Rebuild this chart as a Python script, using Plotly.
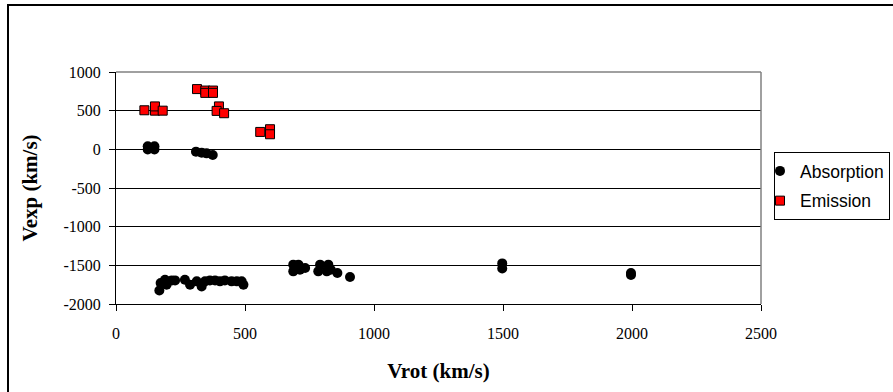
import plotly.graph_objects as go

# Absorption (black circles)
abs_x = [123, 123, 149, 149, 310, 332, 351, 375,
         168, 173, 190, 196, 216, 229, 267, 287, 313, 332, 345, 364, 384, 403, 422, 448, 468, 487, 494,
         687, 687, 707, 713, 733, 791, 784, 823, 817, 832, 858, 907,
         1497, 1497, 1996, 1996]
abs_y = [40, -3, 40, -3, -30, -43, -52, -74,
         -1825, -1730, -1686, -1750, -1695, -1695, -1686, -1750, -1707, -1773, -1707, -1695, -1695, -1707, -1695, -1707, -1707, -1707, -1750,
         -1491, -1578, -1491, -1556, -1534, -1491, -1578, -1491, -1578, -1556, -1600, -1651,
         -1475, -1540, -1600, -1625]

# Emission (red squares)
emi_x = [110, 151, 151, 181, 314, 346, 346, 376, 376, 399, 390, 419, 559, 597, 597]
emi_y = [505, 500, 555, 500, 779, 760, 730, 760, 730, 555, 497, 467, 225, 260, 195]

x_ticks = [0, 500, 1000, 1500, 2000, 2500]
y_ticks = [-2000, -1500, -1000, -500, 0, 500, 1000]

fig = go.Figure()
fig.add_trace(go.Scatter(x=abs_x, y=abs_y, mode="markers", name="Absorption",
                         legendgroup="a",
                         marker=dict(symbol="circle", size=10, color="black",
                                     line=dict(width=0))))
fig.add_trace(go.Scatter(x=emi_x, y=emi_y, mode="markers", name="Emission",
                         legendgroup="e",
                         marker=dict(symbol="square", size=9, color="#FF0000",
                                     line=dict(width=1, color="black"))))

tickfont = dict(family="Liberation Serif", size=16, color="black")
titlefont = dict(family="Liberation Serif", size=21, color="black")

px = lambda v: (v - 116) / 645
py = lambda v: (304 - v) / 232

fig.update_layout(
    width=893, height=392,
    margin=dict(l=116, r=132, t=72, b=88, autoexpand=False),
    paper_bgcolor="white", plot_bgcolor="white",
    showlegend=True,
    legend=dict(x=px(774), y=py(152), xanchor="left", yanchor="top",
                bgcolor="white", bordercolor="black", borderwidth=1,
                font=dict(family="Liberation Sans", size=17.5, color="black"),
                traceorder="grouped", tracegroupgap=4,
                itemwidth=30, indentation=-15),
    xaxis=dict(range=[0, 2500], tickvals=x_ticks, ticktext=[str(v) for v in x_ticks],
               showgrid=False, zeroline=False,
               showline=True, linecolor="black", linewidth=1,
               ticks="outside", ticklen=6, tickcolor="black",
               tickfont=tickfont, ticklabelstandoff=9,
               title=dict(text="<b>Vrot (km/s)</b>", font=titlefont, standoff=22)),
    yaxis=dict(range=[-2000, 1000], tickvals=y_ticks, ticktext=[str(v) for v in y_ticks],
               showgrid=True, gridcolor="black", gridwidth=1, zeroline=False,
               showline=True, linecolor="black", linewidth=1,
               ticks="outside", ticklen=6, tickcolor="black",
               tickfont=tickfont, ticklabelstandoff=5,
               title=dict(text="<b>Vexp (km/s)</b>", font=titlefont, standoff=20)),
    shapes=[
        # plot area border (top and right, grey)
        dict(type="line", xref="paper", yref="paper", x0=0, x1=1, y0=1, y1=1,
             line=dict(color="#808080", width=1.5)),
        dict(type="line", xref="paper", yref="paper", x0=1, x1=1, y0=0, y1=1,
             line=dict(color="#808080", width=1.5)),
        # outer chart border (only top and left edges fall inside the picture)
        dict(type="line", xref="paper", yref="paper",
             x0=px(7), x1=px(920), y0=py(5), y1=py(5),
             line=dict(color="black", width=2)),
        dict(type="line", xref="paper", yref="paper",
             x0=px(8), x1=px(8), y0=py(4), y1=py(420),
             line=dict(color="black", width=2)),
    ],
)

fig.write_html("out.html")
